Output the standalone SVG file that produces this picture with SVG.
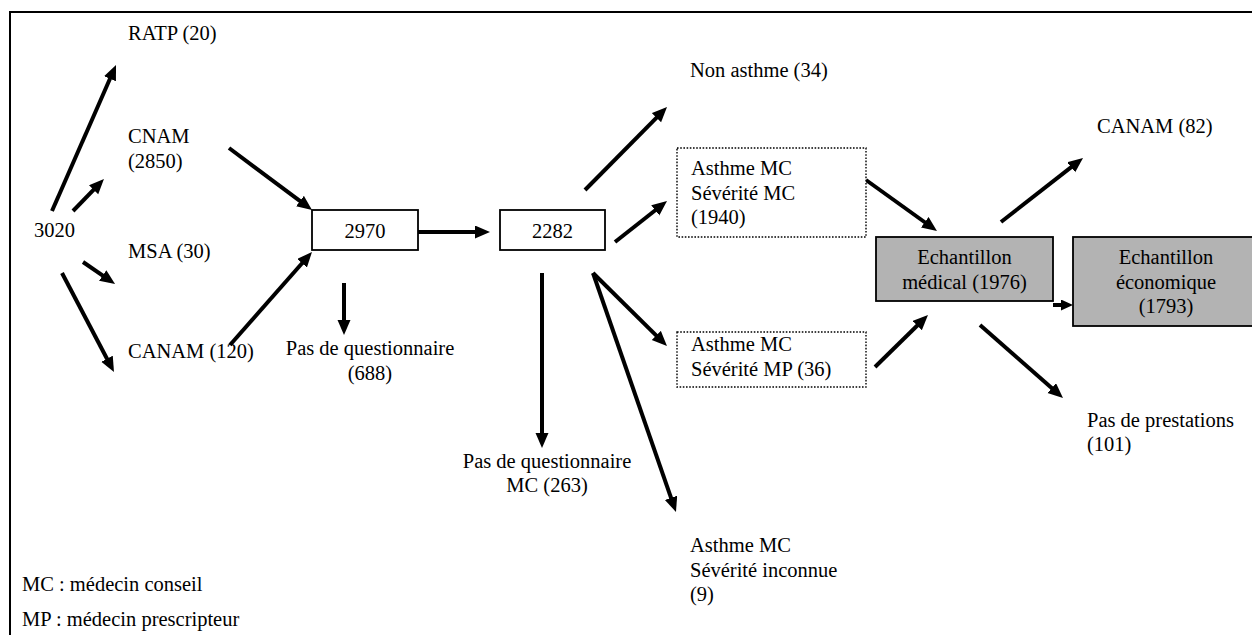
<svg xmlns="http://www.w3.org/2000/svg" width="1252" height="635" viewBox="0 0 1252 635">
<defs>
<style>
text{font-family:"Liberation Serif","Times New Roman",serif;font-size:20.5px;fill:#000}
.c{text-anchor:middle}
.box{fill:#fff;stroke:#000;stroke-width:1.8}
.dot{fill:#fff;stroke:#000;stroke-width:1.4;stroke-dasharray:1.6 1.6}
.grey{fill:#b3b3b3;stroke:#000;stroke-width:1.8}
.ar{stroke:#000;stroke-width:4;fill:none;marker-end:url(#ah)}
</style>
<marker id="ah" markerUnits="userSpaceOnUse" markerWidth="16" markerHeight="14" refX="9" refY="6.5" orient="auto">
<path d="M0,0 L15,6.5 L0,13 z" fill="#000"/>
</marker>
<marker id="ahs" markerUnits="userSpaceOnUse" markerWidth="14" markerHeight="12" refX="6" refY="5.5" orient="auto">
<path d="M0,0 L12,5.5 L0,11 z" fill="#000"/>
</marker>
</defs>
<path d="M10,635 L10,12 L1252,12" fill="none" stroke="#000" stroke-width="2"/>
<g id="connectors">
<line class="ar" x1="52" y1="211" x2="113.6" y2="70.5"/>
<line class="ar" x1="73" y1="211" x2="99.8" y2="183.3"/>
<line class="ar" x1="83" y1="262" x2="110.1" y2="280.6"/>
<line class="ar" x1="62" y1="273" x2="111.2" y2="366.7"/>
<line class="ar" x1="229" y1="148" x2="307.2" y2="206.4"/>
<line class="ar" x1="230" y1="345" x2="308" y2="256.5"/>
<line class="ar" x1="418" y1="232" x2="484" y2="232"/>
<line class="ar" x1="344" y1="283" x2="344" y2="329"/>
<line class="ar" x1="585" y1="190" x2="662.8" y2="111.3"/>
<line class="ar" x1="615" y1="242" x2="662.3" y2="204.7"/>
<line class="ar" x1="593" y1="273" x2="662.7" y2="341.8"/>
<line class="ar" x1="593" y1="273" x2="674" y2="506.3"/>
<line class="ar" x1="542" y1="273" x2="542" y2="442"/>
<line class="ar" x1="866" y1="180" x2="932.1" y2="227.5"/>
<line class="ar" x1="875" y1="367" x2="923.7" y2="319.2"/>
<line class="ar" x1="1001" y1="222" x2="1078.3" y2="161.7"/>
<line class="ar" x1="980" y1="325" x2="1058.5" y2="394"/>
<line x1="1053" y1="305" x2="1067" y2="305" stroke="#000" stroke-width="4" marker-end="url(#ahs)"/>
</g>
<g id="n3020"><text x="34" y="237">3020</text></g>
<g id="nRATP"><text x="128" y="40">RATP (20)</text></g>
<g id="nCNAM"><text x="128" y="143">CNAM</text><text x="128" y="168">(2850)</text></g>
<g id="nMSA"><text x="128" y="258">MSA (30)</text></g>
<g id="nCANAM120"><text x="128" y="358">CANAM (120)</text></g>
<g id="n2970"><rect class="box" x="312" y="210" width="106" height="40"/><text class="c" x="365" y="238">2970</text></g>
<g id="nPasQ688"><text class="c" x="370" y="355">Pas de questionnaire</text><text class="c" x="370" y="380">(688)</text></g>
<g id="n2282"><rect class="box" x="500" y="210" width="105" height="40"/><text class="c" x="552.5" y="238">2282</text></g>
<g id="nNonAsthme"><text x="690" y="77">Non asthme (34)</text></g>
<g id="nAsthmeMC"><rect class="dot" x="677" y="148" width="189" height="89"/><text x="691" y="175">Asthme MC</text><text x="691" y="200">Sévérité MC</text><text x="691" y="224">(1940)</text></g>
<g id="nAsthmeMP"><rect class="dot" x="677" y="332" width="189" height="55"/><text x="691" y="351">Asthme MC</text><text x="691" y="376">Sévérité MP (36)</text></g>
<g id="nPasQMC"><text class="c" x="547" y="468">Pas de questionnaire</text><text class="c" x="547" y="492">MC (263)</text></g>
<g id="nInconnue"><text x="690" y="552">Asthme MC</text><text x="690" y="577">Sévérité inconnue</text><text x="690" y="601">(9)</text></g>
<g id="nMedical"><rect class="grey" x="876" y="237" width="177" height="64"/><text class="c" x="964.5" y="264">Echantillon</text><text class="c" x="964.5" y="289">médical (1976)</text></g>
<g id="nEconomique"><rect class="grey" x="1073" y="237" width="187" height="89"/><text class="c" x="1166" y="264">Echantillon</text><text class="c" x="1166" y="289">économique</text><text class="c" x="1166" y="313">(1793)</text></g>
<g id="nCANAM82"><text x="1097" y="133">CANAM (82)</text></g>
<g id="nPasPrest"><text x="1087" y="427">Pas de prestations</text><text x="1087" y="451">(101)</text></g>
<g id="legend"><text x="22" y="591">MC : médecin conseil</text><text x="22" y="626">MP : médecin prescripteur</text></g>
</svg>
